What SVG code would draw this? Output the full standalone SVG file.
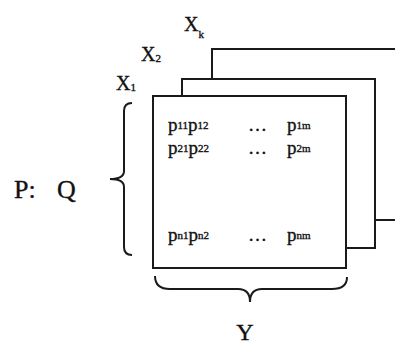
<svg xmlns="http://www.w3.org/2000/svg" width="395" height="347" viewBox="0 0 395 347">
<style>
.sheet{fill:#fff;stroke:#1a1a1a;stroke-width:2}
.br{fill:none;stroke:#1a1a1a;stroke-width:2}
text{font-family:"Liberation Serif","Times New Roman",serif;fill:#111;stroke:#111;stroke-width:0.35}
.big{font-size:26px}
.lab{font-size:20px}
.sub{font-size:11px}
.p{font-size:19px}
.ps{font-size:11px}
</style>
<rect width="395" height="347" fill="#fff"/>
<g id="sheet-xk"><rect class="sheet" x="212" y="49" width="200" height="171"/></g>
<g id="sheet-x2"><rect class="sheet" x="182" y="79" width="193" height="169"/></g>
<g id="sheet-x1">
<rect class="sheet" x="153" y="96" width="193" height="172"/>
<text class="p" x="168" y="131">p<tspan class="ps" dy="-2">11</tspan><tspan dy="2">p</tspan><tspan class="ps" dy="-2">12</tspan></text>
<text class="p" x="248" y="131">…</text>
<text class="p" x="287" y="131">p<tspan class="ps" dy="-2">1m</tspan></text>
<text class="p" x="168" y="154">p<tspan class="ps" dy="-2">21</tspan><tspan dy="2">p</tspan><tspan class="ps" dy="-2">22</tspan></text>
<text class="p" x="248" y="154">…</text>
<text class="p" x="287" y="154">p<tspan class="ps" dy="-2">2m</tspan></text>
<text class="p" x="168" y="241">p<tspan class="ps" dy="-2">n1</tspan><tspan dy="2">p</tspan><tspan class="ps" dy="-2">n2</tspan></text>
<text class="p" x="248" y="241">…</text>
<text class="p" x="287" y="241">p<tspan class="ps" dy="-2">nm</tspan></text>
</g>
<g id="labels">
<text class="lab" x="116" y="90">X<tspan class="sub" dy="1">1</tspan></text>
<text class="lab" x="141" y="61">X<tspan class="sub" dy="1">2</tspan></text>
<text class="lab" x="184" y="31">X<tspan class="sub" dy="7">k</tspan></text>
<text class="big" x="14" y="198">P:</text>
<text class="big" x="57" y="198">Q</text>
<text x="245" y="340" text-anchor="middle" font-size="24">Y</text>
</g>
<g id="connectors">
<path class="br" d="M132,103 Q124,103 124,111 L124,171 Q124,179 110,179 Q124,179 124,187 L124,247 Q124,255 132,255"/>
<path class="br" d="M155,276 Q155,289 170,289 L238,289 Q250,289 250,302 Q250,289 262,289 L332,289 Q347,289 347,277"/>
</g>
</svg>
